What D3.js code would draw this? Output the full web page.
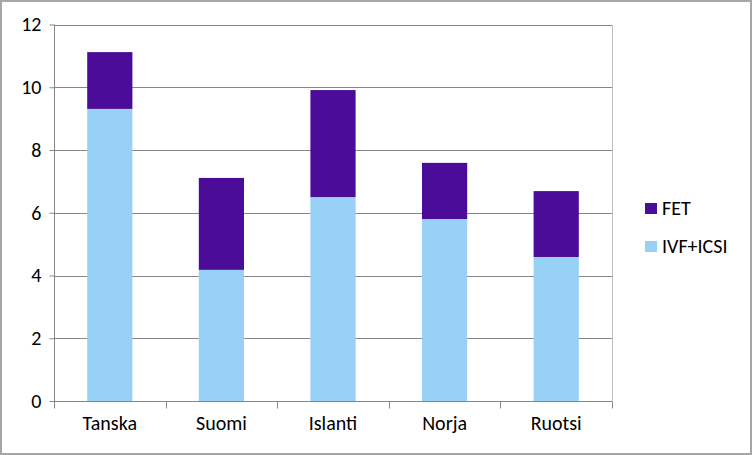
<!DOCTYPE html>
<html><head><meta charset="utf-8">
<script src="https://cdn.jsdelivr.net/npm/d3@7"></script>
<style>body{margin:0;background:#fff}svg{display:block}text{font-family:Carlito,Lato,"Open Sans","Liberation Sans",sans-serif;fill:#000}</style>
</head><body>
<svg id="c" width="752" height="455"></svg>
<script>
const categories = ["Tanska","Suomi","Islanti","Norja","Ruotsi"];
const ivfIcsi = [9.31, 4.18, 6.50, 5.80, 4.59];
const fet = [1.81, 2.93, 3.41, 1.79, 2.10];
const yTicks = [0,2,4,6,8,10,12];
const seriesNames = ["IVF+ICSI","FET"];
const colors = {"IVF+ICSI":"#97D1F6","FET":"#4B0C99"};

const svg = d3.select("#c");
svg.append("rect").attr("x",1).attr("y",1).attr("width",750).attr("height",453)
  .attr("fill","#fff").attr("stroke","#A6A6A6").attr("stroke-width",2);

const L=54,R=612,T=24.5,B=401;
const FS = "20px";
const x = d3.scaleBand().domain(categories).range([L,R]).paddingInner(0.595).paddingOuter(0.2975);
const y = d3.scaleLinear().domain([0,12]).range([B,T]);

// plot area border (right)
svg.append("line").attr("x1",R+0.5).attr("x2",R+0.5).attr("y1",Math.round(T)).attr("y2",B)
  .attr("stroke","#BFBFBF").attr("stroke-width",1);
// gridlines
svg.append("g").selectAll("line").data(yTicks.filter(d=>d>0)).join("line")
  .attr("x1",L).attr("x2",R).attr("y1",d=>Math.round(y(d))+0.5).attr("y2",d=>Math.round(y(d))+0.5)
  .attr("stroke","#868686").attr("stroke-width",1);

const table = categories.map((c,i)=>({cat:c,"IVF+ICSI":ivfIcsi[i],"FET":fet[i]}));
const stack = d3.stack().keys(seriesNames)(table);
svg.append("g").selectAll("g").data(stack).join("g").attr("fill",s=>colors[s.key])
  .selectAll("rect").data(s=>s).join("rect")
  .attr("x",d=>x(d.data.cat)).attr("width",x.bandwidth())
  .attr("y",d=>y(d[1])).attr("height",d=>y(d[0])-y(d[1]));

// y axis
const ya = svg.append("g").attr("transform",`translate(${L+0.5},0)`)
  .call(d3.axisLeft(y).tickValues(yTicks).tickSize(5).tickPadding(8));
ya.select(".domain").attr("stroke","#868686").attr("d",`M0,${T}V${B}`);
ya.selectAll(".tick line").attr("stroke","#868686");
ya.selectAll(".tick text").style("font-size",FS).attr("fill","#000");

// x axis
const xa = svg.append("g").attr("transform",`translate(0,${B+0.5})`)
  .call(d3.axisBottom(x).tickSize(0).tickPadding(14));
xa.select(".domain").attr("stroke","#868686").attr("d",`M${L},0H${R}`);
xa.selectAll(".tick text").style("font-size",FS).attr("fill","#000");
const bounds = d3.range(categories.length+1).map(i=>L+i*(R-L)/categories.length);
xa.selectAll("line.bt").data(bounds).join("line").attr("class","bt")
  .attr("x1",d=>Math.round(d)+0.5).attr("x2",d=>Math.round(d)+0.5).attr("y1",0).attr("y2",7).attr("stroke","#868686");

// legend
const leg = svg.append("g");
const legItems = ["FET","IVF+ICSI"];
legItems.forEach((k,i)=>{
  const gy = 203 + i*38;
  leg.append("rect").attr("x",645).attr("y",gy).attr("width",12).attr("height",11).attr("fill",colors[k]);
  leg.append("text").attr("x",662).attr("y",gy+12).style("font-size",FS).text(k);
});
</script>
</body></html>
